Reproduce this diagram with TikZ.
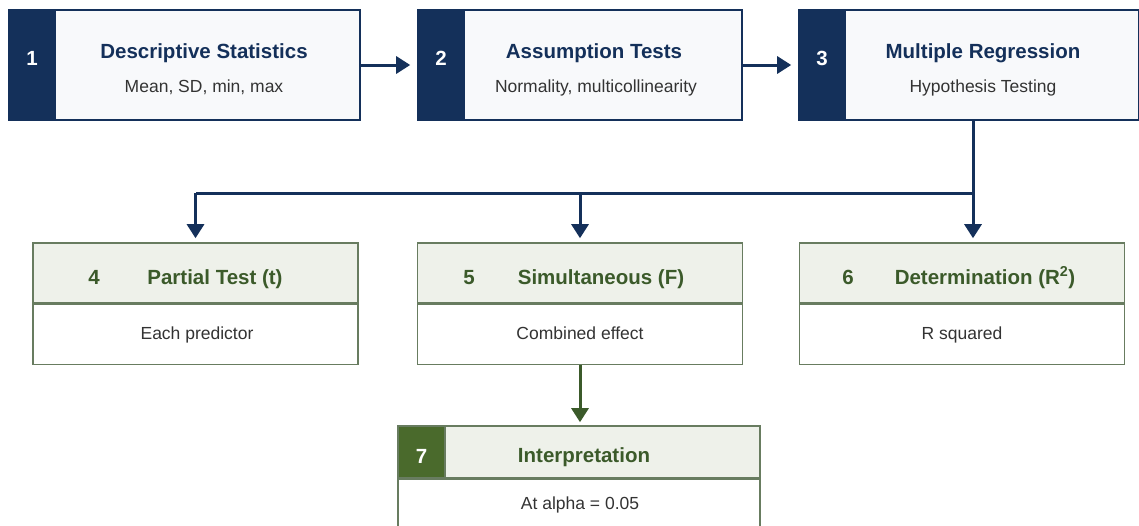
\documentclass[tikz,border=0pt]{standalone}
\usepackage{fontspec}
\setmainfont{Liberation Sans}
\usepackage{tikz}
\usetikzlibrary{arrows.meta}
\usetikzlibrary{positioning}

\definecolor{navy}{HTML}{14305A}
\definecolor{paleblue}{HTML}{F8F9FB}
\definecolor{leaf}{HTML}{3B5A2A}
\definecolor{leafdark}{HTML}{4A6A2C}
\definecolor{leafline}{HTML}{687C60}
\definecolor{leafpale}{HTML}{EEF1EA}
\definecolor{ink}{HTML}{333333}

\tikzset{
  stagebox/.style={draw=navy, line width=1.6pt, fill=paleblue, minimum height=110pt, inner sep=0pt},
  stagetab/.style={draw=navy, line width=1.6pt, fill=navy, minimum height=110pt,
    minimum width=46pt, inner sep=0pt, anchor=north west},
  stagenum/.style={text=white, anchor=base, inner sep=0pt, font=\fontsize{20.5}{24}\selectfont\bfseries},
  stagetitle/.style={text=navy, anchor=base, inner sep=0pt, font=\fontsize{20.5}{24}\selectfont\bfseries},
  stagesub/.style={text=ink, anchor=base, inner sep=0pt, font=\fontsize{17.5}{21}\selectfont},
  greenhead/.style={draw=leafline, line width=1.6pt, fill=leafpale, minimum width=325pt,
    minimum height=60pt, inner sep=0pt},
  greenbody/.style={draw=leafline, line width=1.6pt, fill=white, minimum width=325pt,
    minimum height=60pt, inner sep=0pt},
  greentitle/.style={text=leaf, anchor=base, inner sep=0pt, font=\fontsize{20.5}{24}\selectfont\bfseries},
  greensub/.style={text=ink, anchor=base, inner sep=0pt, font=\fontsize{17.5}{21}\selectfont},
  navyarrow/.style={draw=navy, line width=3pt, -{Triangle[width=17pt,length=14pt]}},
  leafarrow/.style={draw=leaf, line width=3pt, -{Triangle[width=17pt,length=14pt]}},
}

\begin{document}
\begin{tikzpicture}[x=1pt, y=-1pt]
  \useasboundingbox[fill=white] (0,0) rectangle (1139,525);

  % top row
  \node[stagebox, minimum width=351pt] (b1) at (184.5,65) {};
  \node[stagebox, minimum width=324pt] (b2) at (580,65) {};
  \node[stagebox, minimum width=340pt] (b3) at (969,65) {};
  \node[stagetab] (t1) at (b1.north west) {};
  \node[stagetab] (t2) at (b2.north west) {};
  \node[stagetab] (t3) at (b3.north west) {};
  \node[stagenum] (k1) at (32,65) {1};
  \node[stagenum] (k2) at (441,65) {2};
  \node[stagenum] (k3) at (822,65) {3};

  \node[stagetitle] (h1) at (204,58) {Descriptive Statistics};
  \node[stagesub] (s1) at (204,92) {Mean, SD, min, max};
  \node[stagetitle] (h2) at (594,58) {Assumption Tests};
  \node[stagesub] (s2) at (596,92) {Normality, multicollinearity};
  \node[stagetitle] (h3) at (983,58) {Multiple Regression};
  \node[stagesub] (s3) at (983,92) {Hypothesis Testing};

  \draw[navyarrow, shorten >=7pt] (b1.east) -- (t2.west);
  \draw[navyarrow, shorten >=7pt] (b2.east) -- (t3.west);

  % test boxes
  \node[greenhead] (g4) at (195.5,273) {};
  \node[greenbody, below=0pt of g4] (c4) {};
  \node[greenhead] (g5) at (580,273) {};
  \node[greenbody, below=0pt of g5] (c5) {};
  \node[greenhead] (g6) at (962,273) {};
  \node[greenbody, below=0pt of g6] (c6) {};

  \node[greentitle] (n4) at (94,284) {4};
  \node[greentitle] (p4) at (215,284) {Partial Test (t)};
  \node[greensub] (e4) at (197,339) {Each predictor};
  \node[greentitle] (n5) at (469,284) {5};
  \node[greentitle] (p5) at (601,284) {Simultaneous (F)};
  \node[greensub] (e5) at (580,339) {Combined effect};
  \node[greentitle] (n6) at (848,284) {6};
  \node[greentitle] (p6) at (985,284) {Determination (R\textsuperscript{2})};
  \node[greensub] (e6) at (962,339) {R squared};

  % split from regression
  \coordinate (split) at (973,193);
  \draw[navy, line width=3pt] (split |- b3.south) -- (split);
  \draw[navy, line width=3pt] (split) -- (g4.north |- split);
  \draw[navyarrow, shorten >=4pt] (g4.north |- split) -- (g4.north);
  \draw[navyarrow, shorten >=4pt] (g5.north |- split) -- (g5.north);
  \draw[navyarrow, shorten >=4pt] (split) -- (split |- g6.north);

  % interpretation
  \node[greenhead, minimum width=362pt, minimum height=52pt] (g7) at (579,452) {};
  \node[greenbody, minimum width=362pt, minimum height=47pt, below=0pt of g7] (c7) {};
  \node[draw=leafline, line width=1.6pt, fill=leafdark, minimum width=47pt,
    minimum height=52pt, inner sep=0pt, anchor=north west] (t7) at (g7.north west) {};
  \node[stagenum] (k7) at (421.5,463) {7};
  \node[greentitle] (p7) at (584,462) {Interpretation};
  \node[greensub] (e7) at (580,509) {At alpha = 0.05};

  \draw[leafarrow, shorten >=3pt] (c5.south) -- (c5.south |- g7.north);
\end{tikzpicture}
\end{document}
